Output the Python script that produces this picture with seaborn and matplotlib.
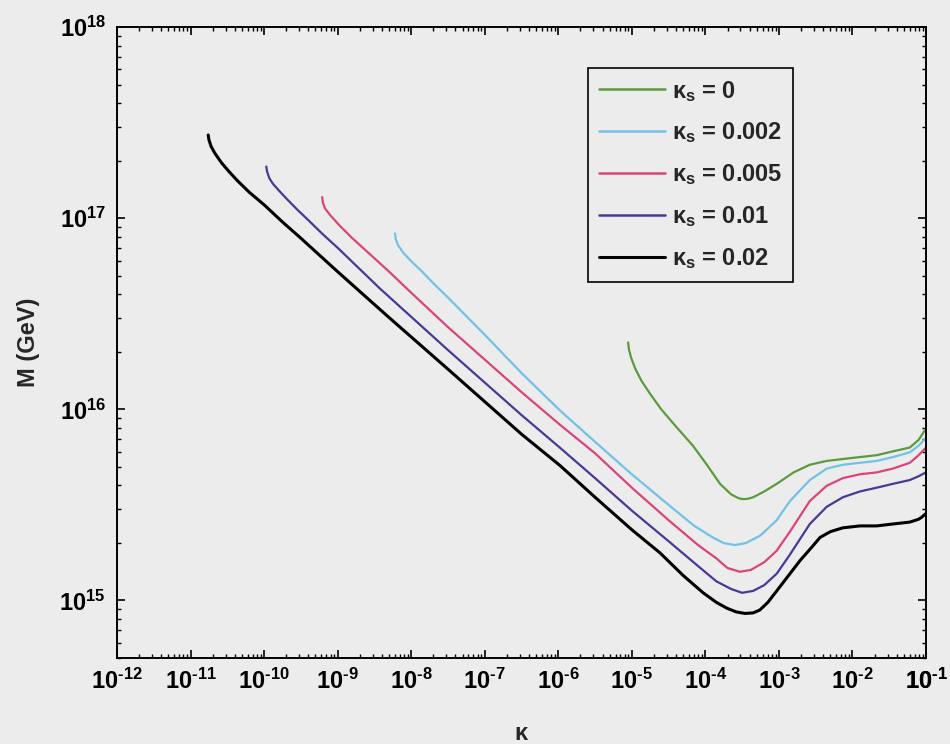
import numpy as np
import pandas as pd
import matplotlib
matplotlib.use("Agg")
import matplotlib.pyplot as plt
import matplotlib.ticker as mticker
import seaborn as sns

# ---- data (log10 values) ----
series_labels = ["0", "0.002", "0.005", "0.01", "0.02"]
series_colors = ["#5b9a3e", "#72c1e6", "#d8457c", "#4a3796", "#000000"]

logk_0 = [-5.05, -5.04, -5.01, -4.95, -4.87, -4.75, -4.6, -4.4, -4.17, -3.98, -3.80, -3.65,
          -3.55, -3.49, -3.42, -3.35, -3.20, -3.03, -2.80, -2.58, -2.35, -2.13, -1.90, -1.67,
          -1.45, -1.22, -1.10, -1.0]
logM_0 = [16.35, 16.315, 16.27, 16.21, 16.15, 16.08, 16.0, 15.91, 15.81, 15.71, 15.61, 15.555,
          15.535, 15.53, 15.532, 15.54, 15.57, 15.61, 15.67, 15.71, 15.73, 15.74, 15.75, 15.76,
          15.78, 15.80, 15.84, 15.90]

logk_002 = [-8.22, -8.21, -8.18, -8.11, -8.0, -7.85, -7.70, -7.5, -7.0, -6.5, -5.98, -5.5, -5.0,
            -4.5, -4.15, -3.9, -3.75, -3.60, -3.45, -3.25, -3.03, -2.85, -2.58, -2.35, -2.13,
            -1.9, -1.67, -1.45, -1.22, -1.10, -1.0]
logM_002 = [16.92, 16.89, 16.86, 16.82, 16.775, 16.72, 16.66, 16.585, 16.39, 16.19, 15.995, 15.83,
            15.66, 15.50, 15.39, 15.33, 15.30, 15.29, 15.30, 15.34, 15.42, 15.52, 15.63, 15.69,
            15.71, 15.72, 15.73, 15.75, 15.775, 15.81, 15.85]

logk_005 = [-9.21, -9.20, -9.17, -9.10, -8.97, -8.80, -8.60, -8.3, -8.0, -7.5, -7.0, -6.5, -5.98,
            -5.5, -5.0, -4.5, -4.1, -3.85, -3.70, -3.53, -3.38, -3.2, -3.03, -2.85, -2.58, -2.35,
            -2.13, -1.9, -1.67, -1.45, -1.22, -1.10, -1.0]
logM_005 = [17.11, 17.08, 17.05, 17.015, 16.96, 16.895, 16.825, 16.72, 16.61, 16.43, 16.26, 16.09,
            15.92, 15.77, 15.59, 15.42, 15.29, 15.22, 15.17, 15.15, 15.16, 15.20, 15.26, 15.36,
            15.52, 15.60, 15.64, 15.66, 15.67, 15.69, 15.72, 15.76, 15.80]

logk_01 = [-9.97, -9.96, -9.93, -9.88, -9.80, -9.69, -9.55, -9.4, -9.2, -9.0, -8.42, -7.5, -7.0,
           -6.5, -5.98, -5.5, -5.0, -4.5, -4.1, -3.85, -3.65, -3.50, -3.35, -3.2, -3.03, -2.85,
           -2.58, -2.35, -2.13, -1.9, -1.67, -1.45, -1.22, -1.10, -1.0]
logM_01 = [17.27, 17.245, 17.21, 17.18, 17.145, 17.10, 17.045, 16.99, 16.915, 16.845, 16.63, 16.31,
           16.14, 15.97, 15.80, 15.64, 15.47, 15.31, 15.18, 15.10, 15.06, 15.04, 15.05, 15.08,
           15.14, 15.24, 15.40, 15.49, 15.54, 15.57, 15.59, 15.61, 15.63, 15.65, 15.67]

logk_02 = [-10.76, -10.75, -10.72, -10.67, -10.58, -10.48, -10.36, -10.2, -10.0, -9.75, -9.5,
           -9.0, -8.33, -7.5, -7.0, -6.5, -5.98, -5.5, -5.0, -4.62, -4.3, -4.03, -3.85, -3.71,
           -3.58, -3.46, -3.35, -3.26, -3.15, -3.03, -2.85, -2.71, -2.55, -2.44, -2.3, -2.13,
           -1.9, -1.67, -1.45, -1.22, -1.10, -1.06, -1.0]
logM_02 = [17.435, 17.41, 17.375, 17.34, 17.29, 17.245, 17.195, 17.135, 17.07, 16.98, 16.895,
           16.72, 16.49, 16.21, 16.04, 15.87, 15.707, 15.54, 15.37, 15.25, 15.13, 15.04, 14.99,
           14.96, 14.94, 14.932, 14.935, 14.95, 14.99, 15.05, 15.14, 15.21, 15.28, 15.33, 15.36,
           15.38, 15.39, 15.39, 15.40, 15.41, 15.425, 15.435, 15.455]

xtick_exps = list(range(-12, 0))
ytick_exps = [15, 16, 17, 18]

all_logk = [logk_0, logk_002, logk_005, logk_01, logk_02]
all_logM = [logM_0, logM_002, logM_005, logM_01, logM_02]

names = [r"$\kappa_s$ = " + l for l in series_labels]
frames = []
for name, lk, lm in zip(names, all_logk, all_logM):
    frames.append(pd.DataFrame({
        "kappa": 10.0 ** np.array(lk),
        "M": 10.0 ** np.array(lm),
        "series": name,
    }))
df = pd.concat(frames, ignore_index=True)

# ---- style ----
sns.set_style("ticks")
bg = "#ececec"
plt.rcParams["font.family"] = ["Liberation Sans", "DejaVu Sans"]
plt.rcParams["font.weight"] = "bold"
plt.rcParams["mathtext.fontset"] = "custom"
plt.rcParams["mathtext.rm"] = "Liberation Sans:bold"
plt.rcParams["mathtext.it"] = "Liberation Sans:bold"
plt.rcParams["mathtext.bf"] = "Liberation Sans:bold"
plt.rcParams["mathtext.sf"] = "Liberation Sans:bold"
plt.rcParams["axes.unicode_minus"] = False

fig = plt.figure(figsize=(9.5, 7.44), dpi=100, facecolor=bg)
ax = fig.add_axes([117 / 950, 1 - 658 / 744, (926 - 117) / 950, (658 - 27) / 744])
ax.set_facecolor(bg)

palette = dict(zip(names, series_colors))
sns.lineplot(data=df, x="kappa", y="M", hue="series", palette=palette, sort=False,
             estimator=None, units="series", ax=ax, legend=True)
for line, lab in zip(ax.get_lines(), series_labels):
    line.set_linewidth(2.2 if lab == "0.02" else 1.6)
    line.set_solid_joinstyle("round")

ax.set_xscale("log")
ax.set_yscale("log")
ax.set_xlim(1e-12, 1e-1)
ax.set_ylim(5e14, 1e18)

ax.xaxis.set_major_locator(mticker.FixedLocator([10.0 ** e for e in xtick_exps] + [1e-1]))
ax.yaxis.set_major_locator(mticker.FixedLocator([10.0 ** e for e in ytick_exps]))
ax.xaxis.set_minor_locator(mticker.LogLocator(base=10, subs=np.arange(2, 10), numticks=100))
ax.yaxis.set_minor_locator(mticker.LogLocator(base=10, subs=np.arange(2, 10), numticks=100))

def fmt(v, pos):
    e = int(round(np.log10(v)))
    if e < 0:
        return r"$10^{\text{-%d}}$" % (-e)
    return r"$10^{%d}$" % e

ax.xaxis.set_major_formatter(mticker.FuncFormatter(fmt))
ax.yaxis.set_major_formatter(mticker.FuncFormatter(fmt))
ax.xaxis.set_minor_formatter(mticker.NullFormatter())
ax.yaxis.set_minor_formatter(mticker.NullFormatter())

ax.tick_params(which="both", direction="in", top=True, right=True, colors="black")
ax.tick_params(which="major", length=6, width=1.2, labelsize=17, pad=8)
ax.tick_params(which="minor", length=3, width=1.0)
for sp in ax.spines.values():
    sp.set_linewidth(1.4)
    sp.set_color("black")

ax.set_xlabel(r"$\kappa$", fontsize=17, fontweight="bold", labelpad=20)
ax.set_ylabel("M (GeV)", fontsize=17, fontweight="bold", labelpad=14)

leg = ax.legend(loc="upper left", bbox_to_anchor=((588 - 117) / 809, (658 - 68) / 631),
                borderaxespad=0, fontsize=17, frameon=True, fancybox=False,
                handlelength=2.8, handletextpad=0.3, labelspacing=0.72,
                borderpad=0.45, facecolor=bg, edgecolor="black", framealpha=1)
leg.get_frame().set_linewidth(1.2)
for h, lab in zip(leg.get_lines(), series_labels):
    h.set_linewidth(2.2 if lab == "0.02" else 1.8)

fig.savefig("out.png", dpi=100, facecolor=bg)
